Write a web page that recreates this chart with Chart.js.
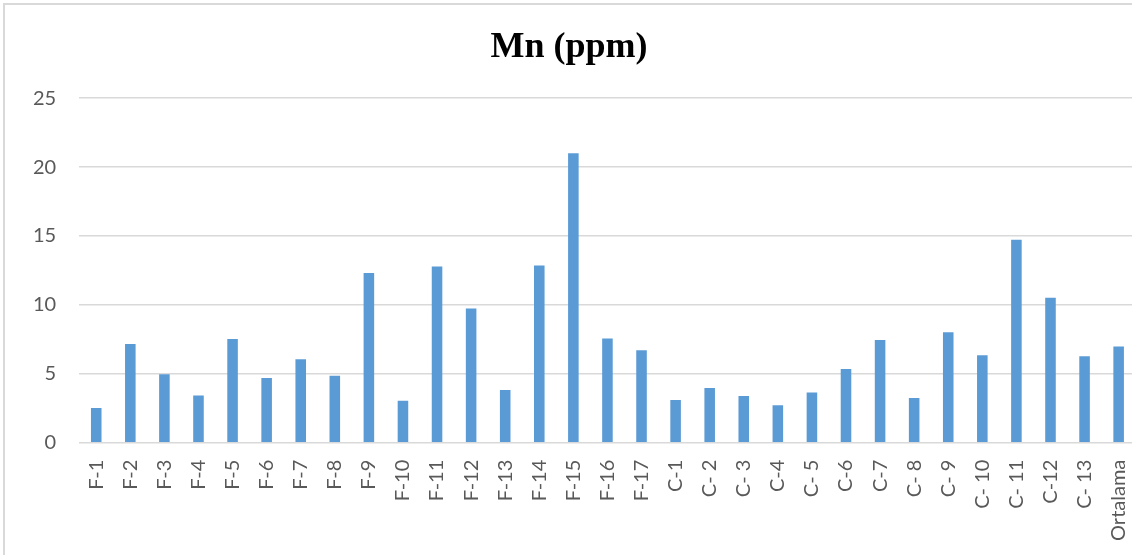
<!DOCTYPE html>
<html>
<head>
<meta charset="utf-8">
<title>Mn (ppm)</title>
<script src="https://cdn.jsdelivr.net/npm/chart.js@4.4.1/dist/chart.umd.min.js"></script>
<style>
    html, body { margin: 0; padding: 0; background: #fff; overflow: hidden; }
    #wrap { position: absolute; left: 0; top: 0; width: 1160px; height: 555px; }
    #frame {
        position: absolute; left: 3px; top: 3px; width: 2000px; height: 1000px;
        border-left: 2px solid #d9d9d9; border-top: 2px solid #d9d9d9;
        pointer-events: none;
    }
</style>
</head>
<body>
<div id="wrap"><canvas id="mnChart"></canvas></div>
<div id="frame"></div>
<script>
// Numuneler (F = ..., C = ...) ve ortalama
const labels = [
    'F-1', 'F-2', 'F-3', 'F-4', 'F-5', 'F-6', 'F-7', 'F-8', 'F-9', 'F-10',
    'F-11', 'F-12', 'F-13', 'F-14', 'F-15', 'F-16', 'F-17',
    'C-1', 'C- 2', 'C- 3', 'C-4', 'C- 5', 'C-6', 'C-7', 'C- 8', 'C- 9',
    'C- 10', 'C- 11', 'C-12', 'C- 13', 'Ortalama'
];

// Mn değerleri (ppm)
const mnValues = [
    2.52, 7.16, 4.96, 3.43, 7.52, 4.69, 6.05, 4.86, 12.31, 3.05,
    12.79, 9.74, 3.82, 12.86, 21.0, 7.57, 6.70,
    3.10, 3.97, 3.39, 2.71, 3.65, 5.34, 7.45, 3.24, 8.01,
    6.34, 14.72, 10.52, 6.27, 6.99
];

// Y ekseni sınırları
const yMin = 0;
const yMax = 25;
const yStep = 5;

const tickFont = { family: 'Lato', size: 20 };
const gridColor = '#d9d9d9';

const ctx = document.getElementById('mnChart').getContext('2d');
const chart = new Chart(ctx, {
    type: 'bar',
    data: {
        labels: labels,
        datasets: [{
            label: 'Mn (ppm)',
            data: mnValues,
            backgroundColor: '#5b9bd5',
            borderWidth: 0,
            categoryPercentage: 1,
            barPercentage: 0.31
        }]
    },
    options: {
        responsive: true,
        maintainAspectRatio: false,
        animation: false,
        layout: { padding: { left: 0, right: 22, top: 0, bottom: 0 } },
        plugins: {
            legend: { display: false },
            tooltip: { enabled: false },
            title: {
                display: true,
                text: 'Mn (ppm)',
                color: '#000',
                font: { family: 'Liberation Serif', size: 36, weight: 'bold' },
                padding: { top: 26, bottom: 29 }
            }
        },
        scales: {
            x: {
                grid: { display: false, drawTicks: false },
                border: { display: false },
                ticks: {
                    color: '#595959',
                    font: tickFont,
                    minRotation: 90,
                    maxRotation: 90,
                    autoSkip: false,
                    padding: 17
                },
                afterFit: function (scale) { scale.height = 112.3; }
            },
            y: {
                min: yMin,
                max: yMax,
                grid: { color: gridColor, lineWidth: 1.5, drawTicks: false },
                border: { display: false },
                ticks: {
                    stepSize: yStep,
                    color: '#595959',
                    font: tickFont,
                    padding: 23
                },
                afterFit: function (scale) { scale.width = 79.2; }
            }
        }
    }
});
</script>
</body>
</html>
